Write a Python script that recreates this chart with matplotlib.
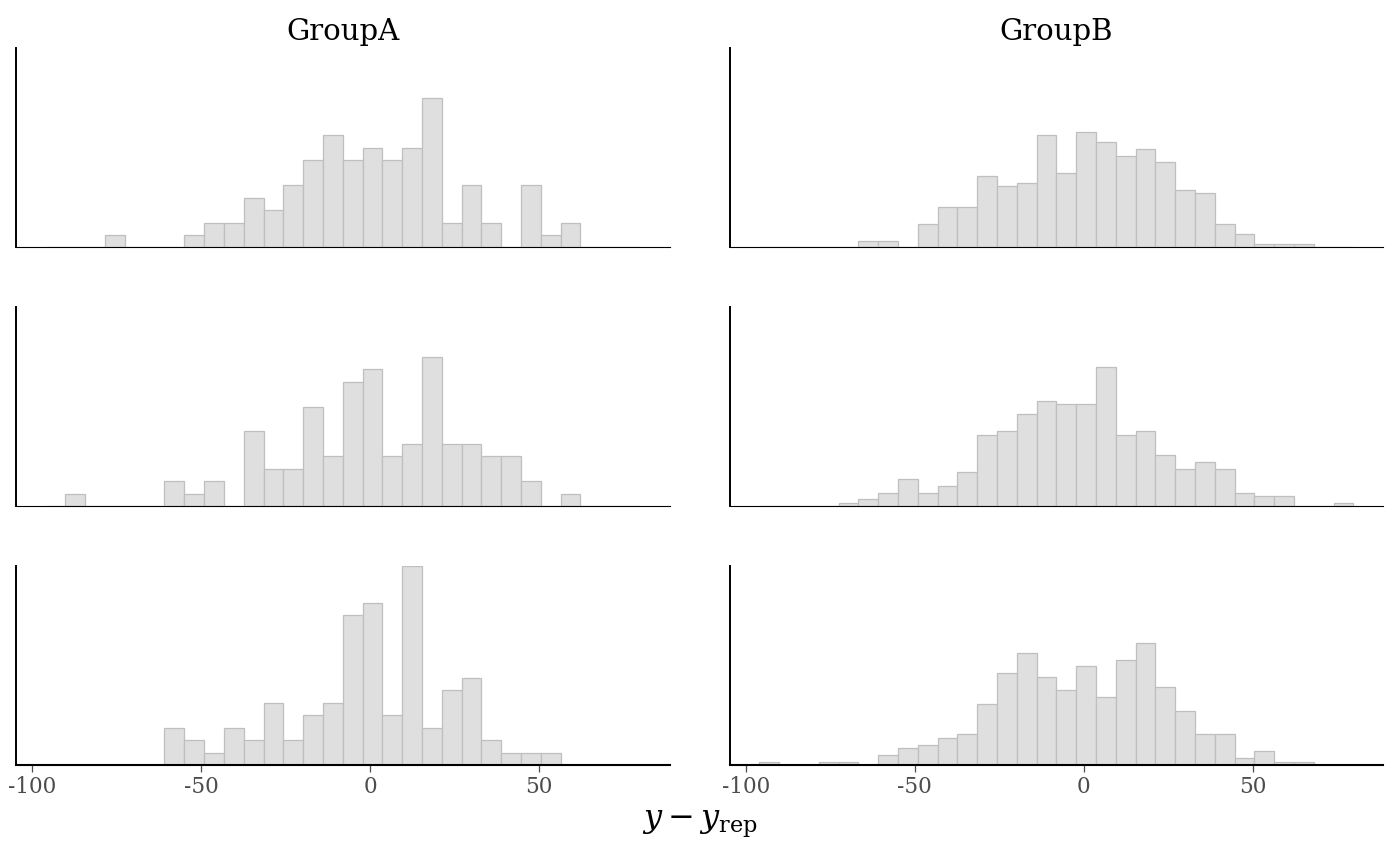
import numpy as np
import matplotlib
matplotlib.use('Agg')
import matplotlib.pyplot as plt

plt.rcParams['font.family'] = ['DejaVu Serif']
plt.rcParams['mathtext.fontset'] = 'dejavuserif'

# shared bins for every panel (30 bins)
bin_start = -96.0
bin_width = 5.863
n_bins = 30

groups = ['GroupA', 'GroupB']

# counts per bin (one list per replicate row)
countsA1 = [0, 0, 0, 1, 0, 0, 0, 1, 2, 2, 4, 3, 5, 7, 9, 7, 8, 7, 8, 12, 2, 5, 2, 0, 5, 1, 2, 0, 0, 0]
countsA2 = [0, 1, 0, 0, 0, 0, 2, 1, 2, 0, 6, 3, 3, 8, 4, 10, 11, 4, 5, 12, 5, 5, 4, 4, 2, 0, 1, 0, 0, 0]
countsA3 = [0, 0, 0, 0, 0, 0, 3, 2, 1, 3, 2, 5, 2, 4, 5, 12, 13, 4, 16, 3, 6, 7, 2, 1, 1, 1, 0, 0, 0, 0]
countsB1 = [0, 0, 0, 0, 0, 2, 2, 0, 7, 12, 12, 21, 18, 19, 33, 22, 34, 31, 27, 29, 25, 17, 16, 7, 4, 1, 1, 1, 0, 0]
countsB2 = [0, 0, 0, 0, 1, 2, 4, 8, 4, 6, 10, 21, 22, 27, 31, 30, 30, 41, 21, 22, 15, 11, 13, 11, 4, 3, 3, 0, 0, 1]
countsB3 = [1, 0, 0, 1, 1, 0, 3, 5, 6, 8, 9, 18, 27, 33, 26, 22, 29, 20, 31, 36, 23, 16, 9, 9, 2, 4, 1, 1, 0, 0]

panel_counts = [[countsA1, countsB1],
                [countsA2, countsB2],
                [countsA3, countsB3]]

xticks = [-100, -50, 0, 50]

edges = bin_start + bin_width * np.arange(n_bins + 1)
centers = 0.5 * (edges[:-1] + edges[1:])
span = edges[-1] - edges[0]
xlo = edges[0] - 0.05 * span
xhi = edges[-1] + 0.05 * span

# shared y limit = tallest density over all panels
ymax = max(np.max(np.array(c) / (np.sum(c) * bin_width)) for row in panel_counts for c in row)

fig, axes = plt.subplots(3, 2, figsize=(14, 8.66), dpi=100, sharex=True)
fig.subplots_adjust(left=0.0114, right=0.988, top=0.9446, bottom=0.1166,
                    wspace=0.092, hspace=0.297)

for r in range(3):
    for c in range(2):
        ax = axes[r, c]
        ax.hist(centers, bins=edges, weights=panel_counts[r][c], density=True,
                color='#dfdfdf', edgecolor='#bfbfbf', linewidth=0.9)
        ax.set_xlim(xlo, xhi)
        ax.set_ylim(0, ymax)
        ax.set_yticks([])
        for s in ['top', 'right']:
            ax.spines[s].set_visible(False)
        ax.spines['left'].set_linewidth(1.4)
        ax.spines['left'].set_color('black')
        ax.spines['bottom'].set_color('black')
        if r < 2:
            ax.spines['bottom'].set_linewidth(0.8)
            ax.tick_params(axis='x', bottom=False, labelbottom=False)
        else:
            ax.spines['bottom'].set_linewidth(1.5)
            ax.set_xticks(xticks)
            ax.set_xticklabels([str(t) for t in xticks])
            ax.tick_params(axis='x', length=5, width=0.9, color='#4d4d4d',
                           labelcolor='#4d4d4d', labelsize=15.5, pad=3)
        if r == 0:
            ax.set_title(groups[c], fontsize=21, pad=6)

fig.text(0.5, 0.048, r'$y - y_{\mathrm{rep}}$', ha='center', va='center', fontsize=23)

fig.savefig('out.png', dpi=100)
